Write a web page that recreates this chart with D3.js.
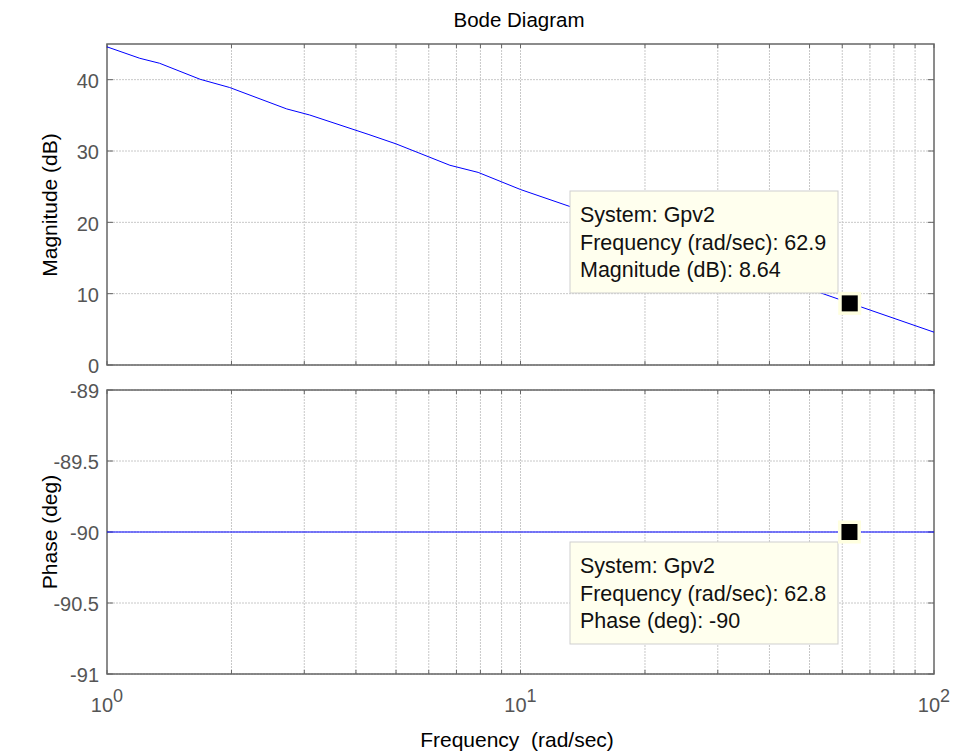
<!DOCTYPE html>
<html><head><meta charset="utf-8">
<script src="https://cdn.jsdelivr.net/npm/d3@7"></script>
<style>body{margin:0;background:#fff}svg{display:block}text{font-family:"Liberation Sans",Arial,sans-serif}</style>
</head><body><svg id="c" width="957" height="753"></svg>
<script>
// data
const freq = [1, 1.2, 1.34, 1.68, 1.98, 2.72, 3.09, 4.3, 5.0, 6.75, 7.9, 10, 20, 40, 62.9, 100];
const magDb = [44.6, 43.0, 42.3, 40.05, 38.9, 35.9, 35.05, 32.3, 31.0, 28.0, 27.0, 24.6, 18.6, 12.6, 8.64, 4.6];
const phaseDeg = [-90, -90, -90, -90, -90, -90, -90, -90, -90, -90, -90, -90, -90, -90, -90, -90];
const magTicks = [0, 10, 20, 30, 40];
const phaseTicks = [-91, -90.5, -90, -89.5, -89];
const xMajor = [1, 10, 100];
const xExp = ["0", "1", "2"];
const magTip = {f: 62.9, v: 8.64, lines: ["System: Gpv2", "Frequency (rad/sec): 62.9", "Magnitude (dB): 8.64"]};
const phTip = {f: 62.8, v: -90, lines: ["System: Gpv2", "Frequency (rad/sec): 62.8", "Phase (deg): -90"]};

const svg = d3.select("#c");
const L = 107, R = 934;
const x = d3.scaleLog().domain([1, 100]).range([L, R]);
const yM = d3.scaleLinear().domain([0, 45]).range([365, 44]);
const yP = d3.scaleLinear().domain([-91, -89]).range([674, 390]);

const minor = [];
for (let d = 1; d < 100; d *= 10) for (let k = 1; k < 10; k++) minor.push(d * k);
minor.push(100);

function panel(y, ticks, fmt) {
  const [y0, y1] = y.range();
  const g = svg.append("g");
  g.selectAll(".vg").data(minor.filter(v => v > 1 && v < 100)).join("line")
    .attr("x1", d => x(d)).attr("x2", d => x(d)).attr("y1", y1).attr("y2", y0)
    .attr("stroke", "#c8c8c8").attr("stroke-width", 1).attr("stroke-dasharray", "2,1");
  g.selectAll(".hg").data(ticks).join("line")
    .attr("x1", L).attr("x2", R).attr("y1", d => y(d)).attr("y2", d => y(d))
    .attr("stroke", "#c8c8c8").attr("stroke-width", 1).attr("stroke-dasharray", "2,1");
  g.selectAll(".tb").data(minor).join("line")
    .attr("x1", d => x(d)).attr("x2", d => x(d)).attr("y1", y0).attr("y2", y0 - 4)
    .attr("stroke", "#666").attr("stroke-width", 1);
  g.selectAll(".tt").data(minor).join("line")
    .attr("x1", d => x(d)).attr("x2", d => x(d)).attr("y1", y1).attr("y2", y1 + 4)
    .attr("stroke", "#666").attr("stroke-width", 1);
  g.selectAll(".yl").data(ticks).join("line")
    .attr("x1", L).attr("x2", L + 6).attr("y1", d => y(d)).attr("y2", d => y(d))
    .attr("stroke", "#666");
  g.selectAll(".yr").data(ticks).join("line")
    .attr("x1", R).attr("x2", R - 6).attr("y1", d => y(d)).attr("y2", d => y(d))
    .attr("stroke", "#666");
  g.selectAll(".ylab").data(ticks).join("text")
    .attr("x", 99).attr("y", d => y(d)).attr("dy", "0.42em")
    .attr("text-anchor", "end").attr("font-size", 20).attr("fill", "#555")
    .text(fmt);
  g.append("rect").attr("x", L).attr("y", y1).attr("width", R - L).attr("height", y0 - y1)
    .attr("fill", "none").attr("stroke", "#666").attr("stroke-width", 1.5);
  return g;
}

panel(yM, magTicks, d => d3.format("d")(d));
panel(yP, phaseTicks, d => String(d));

const line = (y, vals) => d3.line().x((d, i) => x(freq[i])).y((d) => y(d))(vals);
svg.append("path").attr("d", line(yM, magDb)).attr("fill", "none").attr("stroke", "#0000ff").attr("stroke-width", 1);
svg.append("path").attr("d", line(yP, phaseDeg)).attr("fill", "none").attr("stroke", "#0000ff").attr("stroke-width", 1);

const xl = svg.selectAll(".xl").data(xMajor).join("text")
  .attr("x", d => x(d)).attr("y", 712).attr("text-anchor", "middle")
  .attr("font-size", 20).attr("fill", "#555");
xl.append("tspan").text("10");
xl.append("tspan").attr("dy", -10).attr("font-size", 18).text((d, i) => xExp[i]);

svg.append("text").attr("x", 519).attr("y", 27).attr("text-anchor", "middle")
  .attr("font-size", 20.5).text("Bode Diagram");
svg.append("text").attr("x", 517).attr("y", 747).attr("text-anchor", "middle")
  .attr("font-size", 21).style("white-space", "pre").text("Frequency  (rad/sec)");
svg.append("text").attr("transform", "translate(57,205) rotate(-90)").attr("text-anchor", "middle")
  .attr("font-size", 21).text("Magnitude (dB)");
svg.append("text").attr("transform", "translate(57,532) rotate(-90)").attr("text-anchor", "middle")
  .attr("font-size", 21).text("Phase (deg)");

function tip(y, t, boxTop) {
  const g = svg.append("g");
  g.append("rect").attr("x", 570).attr("y", boxTop).attr("width", 268).attr("height", 102)
    .attr("fill", "#ffffee").attr("stroke", "#cfcfcf").attr("stroke-width", 1);
  t.lines.forEach((s, i) => {
    g.append("text").attr("x", 580).attr("y", boxTop + 31 + i * 27.5)
      .attr("font-size", 21.5).attr("fill", "#111").text(s);
  });
  const cx = x(t.f) - 1, cy = y(t.v);
  g.append("rect").attr("x", cx - 11.5).attr("y", cy - 11.5).attr("width", 23).attr("height", 23)
    .attr("fill", "#ffffe0");
  g.append("rect").attr("x", cx - 8).attr("y", cy - 8).attr("width", 16).attr("height", 16)
    .attr("fill", "#000");
}
tip(yM, magTip, 191);
tip(yP, phTip, 542);
</script></body></html>
